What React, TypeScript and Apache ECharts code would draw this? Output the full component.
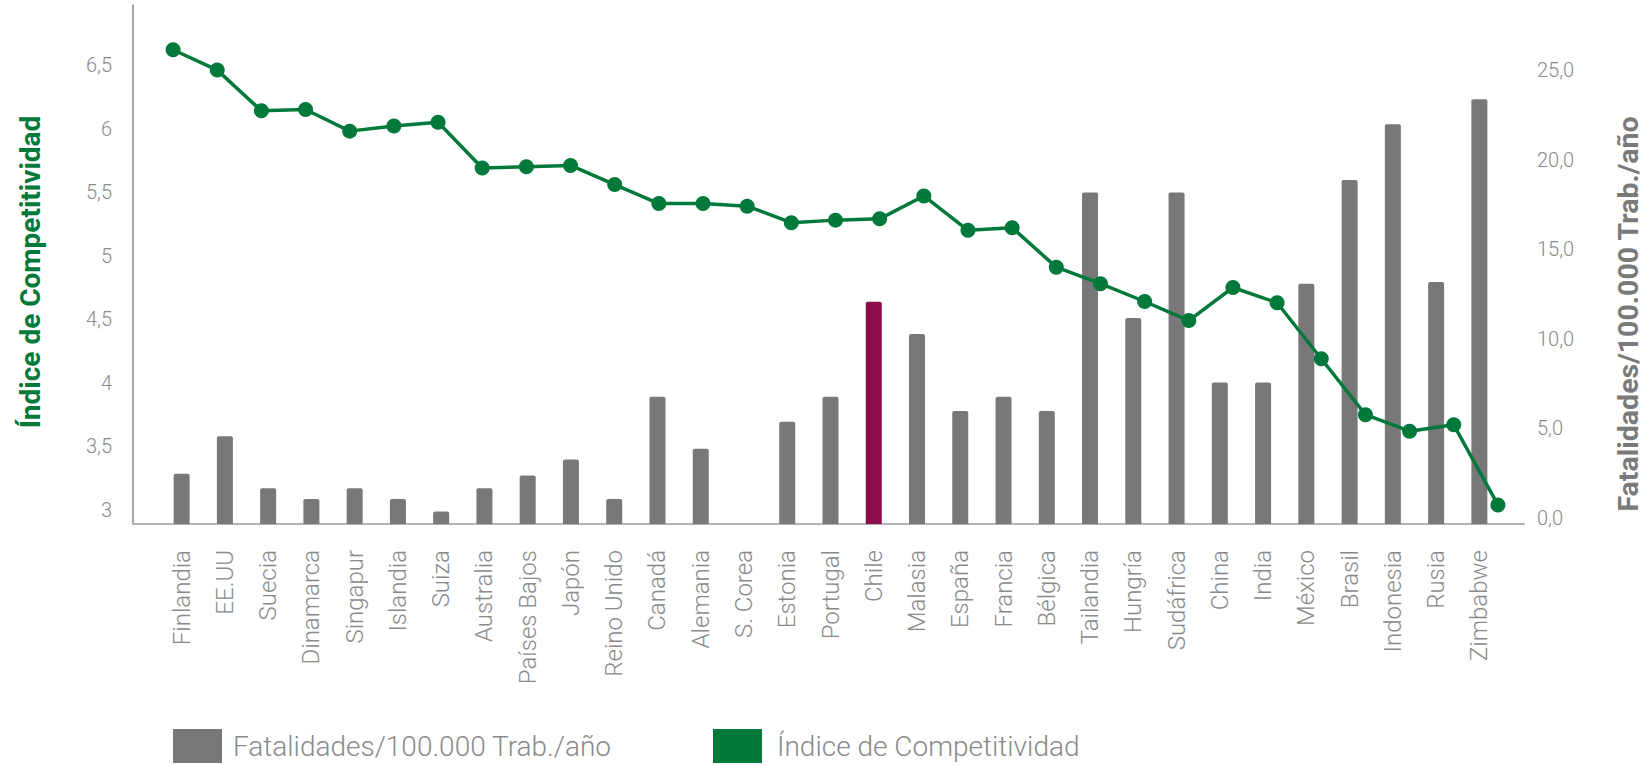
import React, { useEffect, useRef } from "react";
import * as echarts from "echarts";

const countries = [
  "Finlandia", "EE.UU", "Suecia", "Dinamarca", "Singapur", "Islandia", "Suiza",
  "Australia", "Países Bajos", "Japón", "Reino Unido", "Canadá", "Alemania",
  "S. Corea", "Estonia", "Portugal", "Chile", "Malasia", "España", "Francia",
  "Bélgica", "Tailandia", "Hungría", "Sudáfrica", "China", "India", "México",
  "Brasil", "Indonesia", "Rusia", "Zimbabwe",
];

const fatalidades = [
  2.8, 4.9, 2.0, 1.4, 2.0, 1.4, 0.7, 2.0, 2.7, 3.6, 1.4, 7.1, 4.2, 0, 5.7, 7.1,
  12.4, 10.6, 6.3, 7.1, 6.3, 18.5, 11.5, 18.5, 7.9, 7.9, 13.4, 19.2, 22.3, 13.5, 23.7,
];

const competitividad = [
  6.73, 6.57, 6.25, 6.26, 6.09, 6.13, 6.16, 5.8, 5.81, 5.82, 5.67, 5.52, 5.52,
  5.5, 5.37, 5.39, 5.4, 5.58, 5.31, 5.33, 5.02, 4.89, 4.75, 4.6, 4.86, 4.74,
  4.3, 3.86, 3.73, 3.78, 3.15,
];

const highlight = "Chile";
const leftTicksMax = 6.5;
const rightTicksMax = 25;

const GREY = "#787878";
const GREEN = "#00793a";
const MAROON = "#8c0d4c";
const LABEL = "#8a8a8a";
const FONT = "Roboto, 'Liberation Sans', sans-serif";

export default function App() {
  const ref = useRef<HTMLDivElement>(null);
  useEffect(() => {
    if (!ref.current) return;
    const chart = echarts.init(ref.current, undefined, { renderer: "svg" });
    const leftFmt = (v: number) => {
      const r = Math.round(v * 10) / 10;
      if (r > leftTicksMax + 1e-6) return "";
      return Number.isInteger(r) ? String(r) : r.toFixed(1).replace(".", ",");
    };
    const rightFmt = (v: number) => {
      const r = Math.round(v * 10) / 10;
      if (r > rightTicksMax + 1e-6) return "";
      return r.toFixed(1).replace(".", ",");
    };
    chart.setOption({
      animation: false,
      grid: [
        { left: 133, right: 121, top: 5, bottom: 241 },
        { left: 160, right: 144, top: 5, bottom: 241 },
        { left: 151, right: 125, top: 5, bottom: 241 },
      ],
      xAxis: [
        {
          type: "value", gridIndex: 0, min: 0, max: 1,
          axisLine: { show: true, lineStyle: { color: "#b3b3b3", width: 2 } },
          axisTick: { show: false }, axisLabel: { show: false }, splitLine: { show: false },
        },
        {
          type: "category", gridIndex: 1, data: countries,
          axisLine: { show: false }, axisTick: { show: false },
          axisLabel: {
            rotate: 90, margin: 26, interval: 0, color: LABEL,
            fontFamily: FONT, fontSize: 24, fontWeight: 300,
          },
        },
        {
          type: "category", gridIndex: 2, data: countries, show: false,
        },
      ],
      yAxis: [
        {
          type: "value", gridIndex: 0, position: "left", min: 3, max: 7.082, interval: 0.5,
          axisLine: { show: true, lineStyle: { color: "#8a8a8a", width: 1.5 } },
          axisTick: { show: false }, splitLine: { show: false },
          axisLabel: {
            formatter: leftFmt, margin: 21, color: LABEL, fontFamily: FONT,
            fontSize: 20, fontWeight: 300, verticalAlign: "bottom", lineHeight: 28,
          },
        },
        {
          type: "value", gridIndex: 0, position: "right", min: 0, max: 28.96, interval: 5,
          axisLine: { show: false }, axisTick: { show: false }, splitLine: { show: false },
          axisLabel: {
            formatter: rightFmt, margin: 13, color: LABEL, fontFamily: FONT,
            fontSize: 20, fontWeight: 300, verticalAlign: "bottom", lineHeight: 12,
          },
        },
        { type: "value", gridIndex: 1, min: 0, max: 28.96, show: false },
        { type: "value", gridIndex: 2, min: 3, max: 7.082, show: false },
      ],
      legend: [
        {
          data: ["Fatalidades/100.000 Trab./año"], left: 173, top: 729, padding: 0,
          icon: "rect", itemWidth: 49, itemHeight: 34,
          textStyle: { color: LABEL, fontFamily: FONT, fontSize: 28, fontWeight: 300, lineHeight: 30, padding: [0, 0, 0, 6] },
        },
        {
          data: ["Índice de Competitividad"], left: 713, top: 729, padding: 0,
          icon: "rect", itemWidth: 49, itemHeight: 34,
          textStyle: { color: LABEL, fontFamily: FONT, fontSize: 28, fontWeight: 300, lineHeight: 30, padding: [0, 0, 0, 10] },
        },
      ],
      graphic: [
        {
          type: "text", x: 30, y: 272, rotation: Math.PI / 2,
          style: {
            text: "Índice de Competitividad", fill: GREEN,
            font: `bold 28px ${FONT}`, textAlign: "center", textVerticalAlign: "middle",
          },
        },
        {
          type: "text", x: 1628, y: 314, rotation: Math.PI / 2,
          style: {
            text: "Fatalidades/100.000 Trab./año", fill: "#7a7a7a",
            font: `bold 28.5px ${FONT}`, textAlign: "center", textVerticalAlign: "middle",
          },
        },
      ],
      series: [
        {
          name: "Fatalidades/100.000 Trab./año", type: "bar",
          xAxisIndex: 1, yAxisIndex: 2, barWidth: 16,
          itemStyle: { color: GREY, borderRadius: [2, 2, 0, 0] },
          data: fatalidades.map((v, i) =>
            countries[i] === highlight ? { value: v, itemStyle: { color: MAROON } } : v
          ),
        },
        {
          name: "Índice de Competitividad", type: "line",
          xAxisIndex: 2, yAxisIndex: 3, data: competitividad,
          symbol: "circle", symbolSize: 15,
          lineStyle: { color: GREEN, width: 3.5 },
          itemStyle: { color: GREEN },
          z: 3,
        },
      ],
    });
    return () => chart.dispose();
  }, []);
  return (
    <div
      ref={ref}
      style={{ position: "absolute", left: 0, top: 0, width: 1645, height: 765 }}
    />
  );
}
